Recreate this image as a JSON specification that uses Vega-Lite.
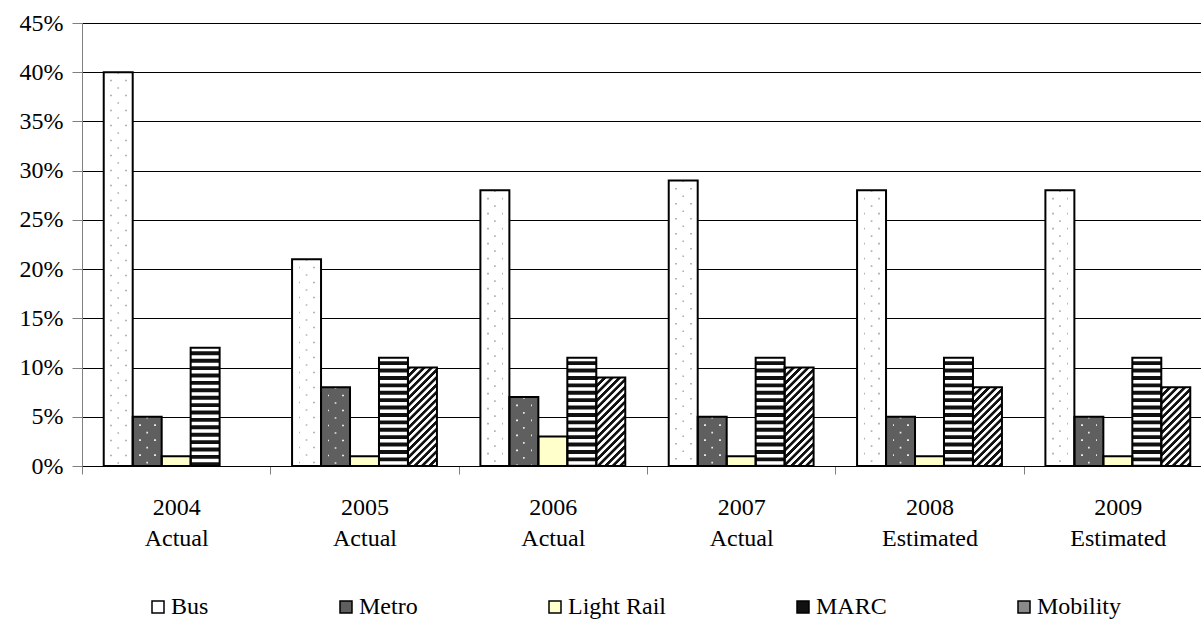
{
  "$schema": "https://vega.github.io/schema/vega-lite/v6.json",
  "width": 1119,
  "height": 443,
  "autosize": {"type": "none"},
  "padding": {"left": 82, "top": 23, "right": 0, "bottom": 158},
  "config": {
    "font": "'Liberation Serif', 'Times New Roman', 'DejaVu Serif', 'Liberation Sans', sans-serif",
    "view": {"stroke": null},
    "axis": {"labelColor": "#000", "labelFontSize": 24, "labelFont": "'Liberation Serif', 'Times New Roman', 'DejaVu Serif', 'Liberation Sans', sans-serif", "title": null},
    "legend": {"labelFont": "'Liberation Serif', 'Times New Roman', 'DejaVu Serif', 'Liberation Sans', sans-serif"}
  },
  "data": {
    "values": [
      {"period": "2004|Actual", "series": "Bus", "value": 40},
      {"period": "2004|Actual", "series": "Metro", "value": 5},
      {"period": "2004|Actual", "series": "Light Rail", "value": 1},
      {"period": "2004|Actual", "series": "MARC", "value": 12},
      {"period": "2005|Actual", "series": "Bus", "value": 21},
      {"period": "2005|Actual", "series": "Metro", "value": 8},
      {"period": "2005|Actual", "series": "Light Rail", "value": 1},
      {"period": "2005|Actual", "series": "MARC", "value": 11},
      {"period": "2005|Actual", "series": "Mobility", "value": 10},
      {"period": "2006|Actual", "series": "Bus", "value": 28},
      {"period": "2006|Actual", "series": "Metro", "value": 7},
      {"period": "2006|Actual", "series": "Light Rail", "value": 3},
      {"period": "2006|Actual", "series": "MARC", "value": 11},
      {"period": "2006|Actual", "series": "Mobility", "value": 9},
      {"period": "2007|Actual", "series": "Bus", "value": 29},
      {"period": "2007|Actual", "series": "Metro", "value": 5},
      {"period": "2007|Actual", "series": "Light Rail", "value": 1},
      {"period": "2007|Actual", "series": "MARC", "value": 11},
      {"period": "2007|Actual", "series": "Mobility", "value": 10},
      {"period": "2008|Estimated", "series": "Bus", "value": 28},
      {"period": "2008|Estimated", "series": "Metro", "value": 5},
      {"period": "2008|Estimated", "series": "Light Rail", "value": 1},
      {"period": "2008|Estimated", "series": "MARC", "value": 11},
      {"period": "2008|Estimated", "series": "Mobility", "value": 8},
      {"period": "2009|Estimated", "series": "Bus", "value": 28},
      {"period": "2009|Estimated", "series": "Metro", "value": 5},
      {"period": "2009|Estimated", "series": "Light Rail", "value": 1},
      {"period": "2009|Estimated", "series": "MARC", "value": 11},
      {"period": "2009|Estimated", "series": "Mobility", "value": 8}
    ]
  },
  "encoding": {
    "x": {
      "field": "period",
      "type": "nominal",
      "scale": {
        "domain": ["2004|Actual", "2005|Actual", "2006|Actual", "2007|Actual", "2008|Estimated", "2009|Estimated"],
        "paddingInner": 0,
        "paddingOuter": 0,
        "range": [0, 1130]
      },
      "axis": {
        "labelAngle": 0,
        "labelExpr": "split(datum.label, '|')",
        "labelLineHeight": 31,
        "labelPadding": 21,
        "labelBaseline": "top",
        "tickBand": "extent",
        "tickSize": 8,
        "tickColor": "#808080",
        "domainColor": "#000",
        "grid": false
      }
    },
    "xOffset": {
      "field": "series",
      "type": "nominal",
      "scale": {
        "domain": ["Bus", "Metro", "Light Rail", "MARC", "Mobility"],
        "paddingInner": 0,
        "paddingOuter": 0.75
      }
    },
    "y": {
      "field": "value",
      "type": "quantitative",
      "scale": {"domain": [0, 45]},
      "axis": {
        "values": [0, 5, 10, 15, 20, 25, 30, 35, 40, 45],
        "labelExpr": "datum.value + '%'",
        "labelPadding": 9,
        "tickSize": 10,
        "tickColor": "#808080",
        "domainColor": "#808080",
        "grid": true,
        "gridColor": "#000",
        "gridWidth": 1
      }
    }
  },
  "layer": [
    {
      "mark": {"type": "bar"},
      "encoding": {
        "fill": {
          "field": "series",
          "type": "nominal",
          "scale": {
            "domain": ["Bus", "Metro", "Light Rail", "MARC", "Mobility"],
            "range": ["#ffffff", "#5f5f5f", "#ffffcc", "#111111", "#8a8a8a"]
          },
          "legend": {
            "title": null,
            "orient": "none",
            "legendX": 64,
            "legendY": 572,
            "direction": "horizontal",
            "columns": 5,
            "columnPadding": 125,
            "padding": 0,
            "symbolType": "square",
            "symbolSize": 144,
            "symbolStrokeColor": "#000",
            "symbolStrokeWidth": 1.5,
            "labelFontSize": 24,
            "labelColor": "#000",
            "labelOffset": 1,
            "labelLimit": 300
          }
        }
      }
    },
    {
      "transform": [{"filter": "datum.series === 'Bus' || datum.series === 'Metro'"}],
      "mark": {"type": "rule", "strokeWidth": 29, "strokeDash": [1.6, 13.4], "strokeDashOffset": 7.5},
      "encoding": {
        "y2": {"datum": 0},
        "stroke": {"condition": {"test": "datum.series === 'Bus'", "value": "#b4b4b4"}, "value": "#e8e8e8"}
      }
    },
    {
      "transform": [{"filter": "datum.series === 'Bus' || datum.series === 'Metro'"}],
      "mark": {"type": "bar"},
      "encoding": {
        "fill": {
          "condition": {
            "test": "datum.series === 'Bus'",
            "value": {
              "gradient": "linear", "x1": 0, "y1": 0, "x2": 1, "y2": 0,
              "stops": [
                {"offset": 0, "color": "#ffffff"}, {"offset": 0.23, "color": "#ffffff"},
                {"offset": 0.23, "color": "rgba(255,255,255,0)"}, {"offset": 0.29, "color": "rgba(255,255,255,0)"},
                {"offset": 0.29, "color": "#ffffff"}, {"offset": 0.73, "color": "#ffffff"},
                {"offset": 0.73, "color": "rgba(255,255,255,0)"}, {"offset": 0.79, "color": "rgba(255,255,255,0)"},
                {"offset": 0.79, "color": "#ffffff"}, {"offset": 1, "color": "#ffffff"}
              ]
            }
          },
          "value": {
            "gradient": "linear", "x1": 0, "y1": 0, "x2": 1, "y2": 0,
            "stops": [
              {"offset": 0, "color": "#5f5f5f"}, {"offset": 0.23, "color": "#5f5f5f"},
              {"offset": 0.23, "color": "rgba(95,95,95,0)"}, {"offset": 0.29, "color": "rgba(95,95,95,0)"},
              {"offset": 0.29, "color": "#5f5f5f"}, {"offset": 0.73, "color": "#5f5f5f"},
              {"offset": 0.73, "color": "rgba(95,95,95,0)"}, {"offset": 0.79, "color": "rgba(95,95,95,0)"},
              {"offset": 0.79, "color": "#5f5f5f"}, {"offset": 1, "color": "#5f5f5f"}
            ]
          }
        }
      }
    },
    {
      "transform": [{"filter": "datum.series === 'Bus' || datum.series === 'Metro'"}],
      "mark": {"type": "rule", "strokeWidth": 1.7, "strokeDash": [1.6, 13.4]},
      "encoding": {
        "y2": {"datum": 0},
        "stroke": {"condition": {"test": "datum.series === 'Bus'", "value": "#b4b4b4"}, "value": "#e8e8e8"}
      }
    },
    {
      "transform": [{"filter": "datum.series === 'MARC'"}],
      "mark": {"type": "rule", "stroke": "#ffffff", "strokeWidth": 29, "strokeDash": [3.5, 3.9]},
      "encoding": {"y2": {"datum": 0}}
    },
    {
      "transform": [{"filter": "datum.series === 'Mobility'"}],
      "mark": {"type": "bar"},
      "encoding": {
        "fill": {
          "condition": [
            {
              "test": "datum.value >= 10",
              "value": {
                "gradient": "linear", "x1": 0, "y1": 0, "x2": 0.3511, "y2": 1.1912,
                "stops": [
                  {"offset": 0, "color": "#111"}, {"offset": 0.0236, "color": "#111"}, {"offset": 0.0299, "color": "#fff"},
                  {"offset": 0.0518, "color": "#fff"}, {"offset": 0.0581, "color": "#111"}, {"offset": 0.0817, "color": "#111"}, {"offset": 0.0880, "color": "#fff"},
                  {"offset": 0.1099, "color": "#fff"}, {"offset": 0.1162, "color": "#111"}, {"offset": 0.1398, "color": "#111"}, {"offset": 0.1461, "color": "#fff"},
                  {"offset": 0.1680, "color": "#fff"}, {"offset": 0.1743, "color": "#111"}, {"offset": 0.1979, "color": "#111"}, {"offset": 0.2042, "color": "#fff"},
                  {"offset": 0.2260, "color": "#fff"}, {"offset": 0.2323, "color": "#111"}, {"offset": 0.2559, "color": "#111"}, {"offset": 0.2622, "color": "#fff"},
                  {"offset": 0.2841, "color": "#fff"}, {"offset": 0.2904, "color": "#111"}, {"offset": 0.3140, "color": "#111"}, {"offset": 0.3203, "color": "#fff"},
                  {"offset": 0.3422, "color": "#fff"}, {"offset": 0.3485, "color": "#111"}, {"offset": 0.3721, "color": "#111"}, {"offset": 0.3784, "color": "#fff"},
                  {"offset": 0.4003, "color": "#fff"}, {"offset": 0.4066, "color": "#111"}, {"offset": 0.4302, "color": "#111"}, {"offset": 0.4365, "color": "#fff"},
                  {"offset": 0.4584, "color": "#fff"}, {"offset": 0.4647, "color": "#111"}, {"offset": 0.4883, "color": "#111"}, {"offset": 0.4946, "color": "#fff"},
                  {"offset": 0.5165, "color": "#fff"}, {"offset": 0.5228, "color": "#111"}, {"offset": 0.5464, "color": "#111"}, {"offset": 0.5527, "color": "#fff"},
                  {"offset": 0.5746, "color": "#fff"}, {"offset": 0.5809, "color": "#111"}, {"offset": 0.6045, "color": "#111"}, {"offset": 0.6108, "color": "#fff"},
                  {"offset": 0.6326, "color": "#fff"}, {"offset": 0.6389, "color": "#111"}, {"offset": 0.6625, "color": "#111"}, {"offset": 0.6688, "color": "#fff"},
                  {"offset": 0.6907, "color": "#fff"}, {"offset": 0.6970, "color": "#111"}, {"offset": 0.7206, "color": "#111"}, {"offset": 0.7269, "color": "#fff"},
                  {"offset": 0.7488, "color": "#fff"}, {"offset": 0.7551, "color": "#111"}, {"offset": 0.7787, "color": "#111"}, {"offset": 0.7850, "color": "#fff"},
                  {"offset": 0.8069, "color": "#fff"}, {"offset": 0.8132, "color": "#111"}, {"offset": 0.8368, "color": "#111"}, {"offset": 0.8431, "color": "#fff"},
                  {"offset": 0.8650, "color": "#fff"}, {"offset": 0.8713, "color": "#111"}, {"offset": 0.8949, "color": "#111"}, {"offset": 0.9012, "color": "#fff"},
                  {"offset": 0.9231, "color": "#fff"}, {"offset": 0.9294, "color": "#111"}, {"offset": 0.9530, "color": "#111"}, {"offset": 0.9593, "color": "#fff"},
                  {"offset": 0.9811, "color": "#fff"}, {"offset": 0.9874, "color": "#111"}, {"offset": 1, "color": "#111"}
                ]
              }
            },
            {
              "test": "datum.value >= 9",
              "value": {
                "gradient": "linear", "x1": 0, "y1": 0, "x2": 0.3924, "y2": 1.1989,
                "stops": [
                  {"offset": 0, "color": "#111"}, {"offset": 0.0255, "color": "#111"}, {"offset": 0.0323, "color": "#fff"},
                  {"offset": 0.0561, "color": "#fff"}, {"offset": 0.0629, "color": "#111"}, {"offset": 0.0884, "color": "#111"}, {"offset": 0.0952, "color": "#fff"},
                  {"offset": 0.1191, "color": "#fff"}, {"offset": 0.1259, "color": "#111"}, {"offset": 0.1514, "color": "#111"}, {"offset": 0.1582, "color": "#fff"},
                  {"offset": 0.1820, "color": "#fff"}, {"offset": 0.1888, "color": "#111"}, {"offset": 0.2143, "color": "#111"}, {"offset": 0.2211, "color": "#fff"},
                  {"offset": 0.2449, "color": "#fff"}, {"offset": 0.2517, "color": "#111"}, {"offset": 0.2772, "color": "#111"}, {"offset": 0.2840, "color": "#fff"},
                  {"offset": 0.3078, "color": "#fff"}, {"offset": 0.3146, "color": "#111"}, {"offset": 0.3401, "color": "#111"}, {"offset": 0.3469, "color": "#fff"},
                  {"offset": 0.3708, "color": "#fff"}, {"offset": 0.3776, "color": "#111"}, {"offset": 0.4031, "color": "#111"}, {"offset": 0.4099, "color": "#fff"},
                  {"offset": 0.4337, "color": "#fff"}, {"offset": 0.4405, "color": "#111"}, {"offset": 0.4660, "color": "#111"}, {"offset": 0.4728, "color": "#fff"},
                  {"offset": 0.4966, "color": "#fff"}, {"offset": 0.5034, "color": "#111"}, {"offset": 0.5289, "color": "#111"}, {"offset": 0.5357, "color": "#fff"},
                  {"offset": 0.5595, "color": "#fff"}, {"offset": 0.5663, "color": "#111"}, {"offset": 0.5918, "color": "#111"}, {"offset": 0.5986, "color": "#fff"},
                  {"offset": 0.6225, "color": "#fff"}, {"offset": 0.6293, "color": "#111"}, {"offset": 0.6548, "color": "#111"}, {"offset": 0.6616, "color": "#fff"},
                  {"offset": 0.6854, "color": "#fff"}, {"offset": 0.6922, "color": "#111"}, {"offset": 0.7177, "color": "#111"}, {"offset": 0.7245, "color": "#fff"},
                  {"offset": 0.7483, "color": "#fff"}, {"offset": 0.7551, "color": "#111"}, {"offset": 0.7806, "color": "#111"}, {"offset": 0.7874, "color": "#fff"},
                  {"offset": 0.8112, "color": "#fff"}, {"offset": 0.8180, "color": "#111"}, {"offset": 0.8435, "color": "#111"}, {"offset": 0.8503, "color": "#fff"},
                  {"offset": 0.8742, "color": "#fff"}, {"offset": 0.8810, "color": "#111"}, {"offset": 0.9065, "color": "#111"}, {"offset": 0.9133, "color": "#fff"},
                  {"offset": 0.9371, "color": "#fff"}, {"offset": 0.9439, "color": "#111"}, {"offset": 0.9694, "color": "#111"}, {"offset": 0.9762, "color": "#fff"},
                  {"offset": 1, "color": "#fff"}
                ]
              }
            }
          ],
          "value": {
            "gradient": "linear", "x1": 0, "y1": 0, "x2": 0.4434, "y2": 1.2048,
            "stops": [
              {"offset": 0, "color": "#111"}, {"offset": 0.0278, "color": "#111"}, {"offset": 0.0352, "color": "#fff"},
              {"offset": 0.0612, "color": "#fff"}, {"offset": 0.0686, "color": "#111"}, {"offset": 0.0964, "color": "#111"}, {"offset": 0.1038, "color": "#fff"},
              {"offset": 0.1299, "color": "#fff"}, {"offset": 0.1373, "color": "#111"}, {"offset": 0.1651, "color": "#111"}, {"offset": 0.1725, "color": "#fff"},
              {"offset": 0.1985, "color": "#fff"}, {"offset": 0.2059, "color": "#111"}, {"offset": 0.2337, "color": "#111"}, {"offset": 0.2411, "color": "#fff"},
              {"offset": 0.2672, "color": "#fff"}, {"offset": 0.2746, "color": "#111"}, {"offset": 0.3024, "color": "#111"}, {"offset": 0.3098, "color": "#fff"},
              {"offset": 0.3358, "color": "#fff"}, {"offset": 0.3432, "color": "#111"}, {"offset": 0.3710, "color": "#111"}, {"offset": 0.3784, "color": "#fff"},
              {"offset": 0.4045, "color": "#fff"}, {"offset": 0.4119, "color": "#111"}, {"offset": 0.4397, "color": "#111"}, {"offset": 0.4471, "color": "#fff"},
              {"offset": 0.4731, "color": "#fff"}, {"offset": 0.4805, "color": "#111"}, {"offset": 0.5083, "color": "#111"}, {"offset": 0.5157, "color": "#fff"},
              {"offset": 0.5418, "color": "#fff"}, {"offset": 0.5492, "color": "#111"}, {"offset": 0.5770, "color": "#111"}, {"offset": 0.5844, "color": "#fff"},
              {"offset": 0.6104, "color": "#fff"}, {"offset": 0.6178, "color": "#111"}, {"offset": 0.6456, "color": "#111"}, {"offset": 0.6530, "color": "#fff"},
              {"offset": 0.6791, "color": "#fff"}, {"offset": 0.6865, "color": "#111"}, {"offset": 0.7143, "color": "#111"}, {"offset": 0.7217, "color": "#fff"},
              {"offset": 0.7477, "color": "#fff"}, {"offset": 0.7551, "color": "#111"}, {"offset": 0.7829, "color": "#111"}, {"offset": 0.7903, "color": "#fff"},
              {"offset": 0.8164, "color": "#fff"}, {"offset": 0.8238, "color": "#111"}, {"offset": 0.8516, "color": "#111"}, {"offset": 0.8590, "color": "#fff"},
              {"offset": 0.8850, "color": "#fff"}, {"offset": 0.8924, "color": "#111"}, {"offset": 0.9202, "color": "#111"}, {"offset": 0.9276, "color": "#fff"},
              {"offset": 0.9536, "color": "#fff"}, {"offset": 0.9610, "color": "#111"}, {"offset": 0.9888, "color": "#111"}, {"offset": 0.9962, "color": "#fff"},
              {"offset": 1, "color": "#fff"}
            ]
          }
        }
      }
    },
    {
      "mark": {"type": "bar", "fill": "#ffffff", "fillOpacity": 0, "stroke": "#000000", "strokeWidth": 2}
    }
  ]
}
